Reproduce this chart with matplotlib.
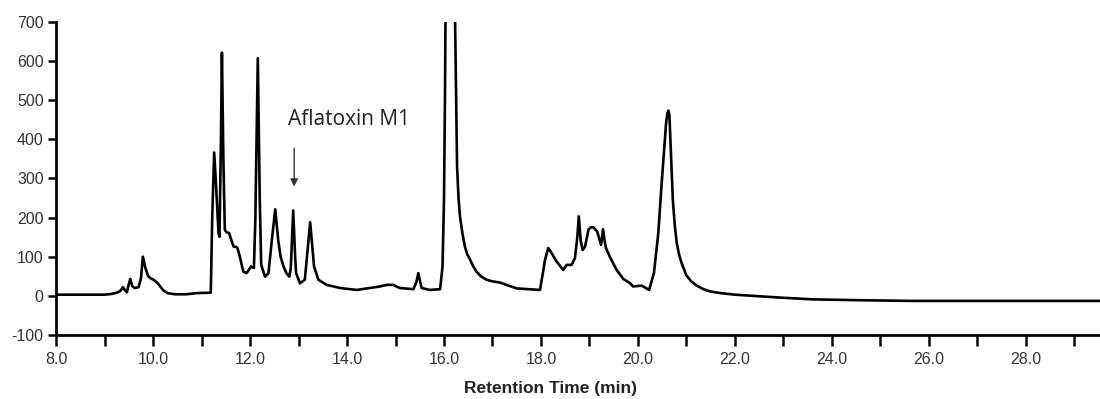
import numpy as np
import matplotlib
matplotlib.use("Agg")
from matplotlib import pyplot as plt


# chromatogram: retention time (min), signal
time = [8.0, 8.5, 9.0, 9.15, 9.25, 9.32, 9.38, 9.42, 9.46, 9.50, 9.53, 9.57,
        9.62, 9.70, 9.75, 9.79, 9.84, 9.90, 9.96, 10.01, 10.06, 10.11, 10.16,
        10.21, 10.30, 10.45, 10.69, 10.90, 11.19, 11.22, 11.26, 11.30, 11.35,
        11.37, 11.40, 11.42, 11.45, 11.48, 11.52, 11.57, 11.62, 11.66, 11.71,
        11.74, 11.79, 11.86, 11.93, 12.02, 12.08, 12.11, 12.16, 12.20, 12.23,
        12.31, 12.38, 12.45, 12.52, 12.58, 12.63, 12.69, 12.75, 12.81, 12.84,
        12.89, 12.93, 12.95, 13.03, 13.13, 13.19, 13.24, 13.28, 13.32, 13.41,
        13.58, 13.86, 14.20, 14.47, 14.68, 14.82, 14.95, 15.09, 15.37, 15.43,
        15.47, 15.51, 15.54, 15.71, 15.92, 15.97, 16.00, 16.02, 16.03, 16.13,
        16.23, 16.25, 16.27, 16.30, 16.33, 16.38, 16.43, 16.48, 16.54, 16.60,
        16.67, 16.76, 16.88, 17.00, 17.15, 17.29, 17.50, 17.98, 18.05, 18.08,
        18.15, 18.22, 18.32, 18.46, 18.53, 18.63, 18.70, 18.75, 18.78, 18.82,
        18.86, 18.91, 18.98, 19.03, 19.08, 19.16, 19.22, 19.24, 19.28, 19.32,
        19.34, 19.42, 19.49, 19.56, 19.70, 19.84, 19.90, 20.08, 20.23, 20.33,
        20.42, 20.49, 20.54, 20.58, 20.61, 20.63, 20.65, 20.67, 20.72, 20.76,
        20.80, 20.85, 20.90, 20.95, 21.00, 21.10, 21.20, 21.35, 21.50, 21.70,
        22.00, 22.24, 23.00, 23.61, 24.50, 25.68, 27.73, 29.53]
signal = [3, 3, 3, 5, 8, 12, 22, 14, 9, 30, 43, 25,
          20, 22, 45, 100, 72, 50, 44, 41, 36, 30, 22,
          14, 7, 4, 4, 7, 8, 200, 366, 280, 160,
          151, 400, 621, 350, 168, 162, 160, 140, 126, 125,
          122, 100, 62, 58, 75, 71, 200, 607, 250, 79,
          49, 58, 143, 221, 143, 100, 75, 58, 49, 70,
          218, 100, 58, 32, 41, 120, 188, 130, 75, 41,
          28, 20, 15, 20, 24, 28, 28, 20, 17, 35,
          58, 35, 20, 15, 17, 75, 245, 500, 692, 1300,
          692, 500, 330, 250, 203, 160, 126, 106, 92, 76,
          62, 50, 41, 37, 34, 28, 19, 15, 66, 90,
          122, 109, 88, 66, 79, 79, 96, 150, 203, 140,
          117, 126, 169, 175, 175, 164, 139, 130, 170, 135,
          122, 100, 83, 66, 43, 32, 24, 26, 15, 58,
          160, 288, 373, 440, 468, 473, 460, 400, 245, 180,
          135, 105, 84, 68, 52, 37, 27, 17, 11, 7,
          3, 1, -5, -9, -11, -13, -13, -13]

x_major = [8, 10, 12, 14, 16, 18, 20, 22, 24, 26, 28]
x_labels = ["8.0", "10.0", "12.0", "14.0", "16.0", "18.0", "20.0", "22.0",
            "24.0", "26.0", "28.0"]
x_minor = [9, 11, 13, 15, 17, 19, 21, 23, 25, 27, 29]
y_ticks = [-100, 0, 100, 200, 300, 400, 500, 600, 700]
y_labels = ["-100", "0", "100", "200", "300", "400", "500", "600", "700"]

peak_label = "Aflatoxin M1"
peak_time = 12.91

fig = plt.figure(figsize=(11, 3.99), dpi=100)
ax = fig.add_axes([0.051, 0.1604, 0.949, 0.7852])
ax.plot(time, signal, color="black", lw=1.9, solid_joinstyle="round")

ax.set_xlim(8, 29.53)
ax.set_ylim(-100, 700)

ax.spines["top"].set_visible(False)
ax.spines["right"].set_visible(False)
for s in ["left", "bottom"]:
    ax.spines[s].set_linewidth(2)

ax.set_xticks(x_major)
ax.set_xticklabels(x_labels)
ax.set_xticks(x_minor, minor=True)
ax.set_yticks(y_ticks)
ax.set_yticklabels(y_labels)
ax.tick_params(axis="x", which="both", direction="out", length=8, width=1.8,
               pad=4, labelsize=11.5, labelcolor="#333333")
ax.tick_params(axis="y", direction="out", length=6, width=1.8, pad=3,
               labelsize=11.5, labelcolor="#333333")
for lab in ax.get_xticklabels() + ax.get_yticklabels():
    lab.set_fontfamily("Liberation Sans")

ax.annotate("", xy=(peak_time, 279), xytext=(peak_time, 377),
            arrowprops=dict(arrowstyle="-|>", color="#333333", lw=1,
                            mutation_scale=11, shrinkA=0, shrinkB=0))
ax.text(12.79, 450, peak_label, fontsize=15, family="Open Sans",
        color="#222222", ha="left", va="center")

fig.text(0.5, 0.027, "Retention Time (min)", fontsize=12.5, fontweight="bold",
         family="Liberation Sans", ha="center", va="center", color="#222222")

fig.savefig("out.png", dpi=100)
